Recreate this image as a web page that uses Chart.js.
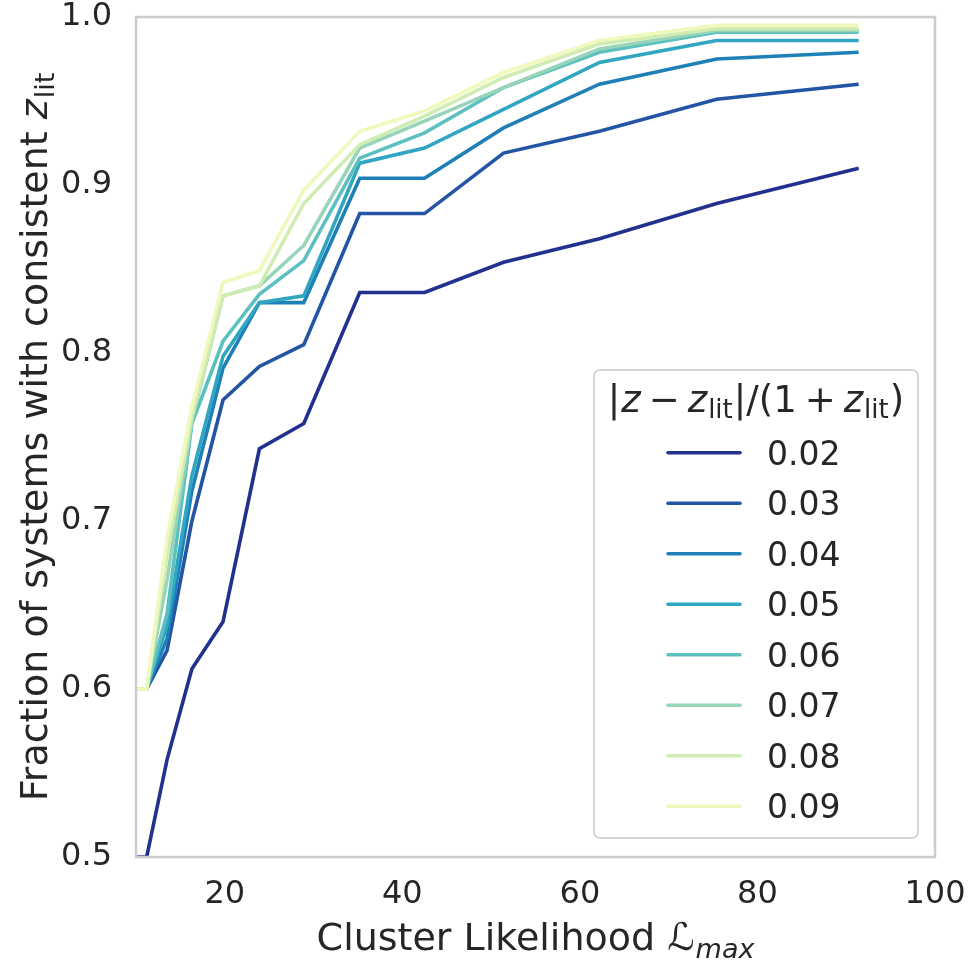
<!DOCTYPE html>
<html>
<head>
<meta charset="utf-8">
<script src="https://cdn.jsdelivr.net/npm/chart.js@4.4.1/dist/chart.umd.min.js"></script>
<style>
  html, body { margin: 0; padding: 0; background: #ffffff; }
  canvas { display: block; }
</style>
</head>
<body>
<canvas id="chart" width="972" height="962"></canvas>
<script>
// Cluster likelihood threshold (x) and fraction of systems whose redshift
// agrees with the literature value within each tolerance.
const likelihood = [10, 11.2, 13.5, 16.3, 19.8, 23.9, 28.9, 35.2, 42.5, 51.4, 62.2, 75.4, 91.4];

const tolerances = ['0.02', '0.03', '0.04', '0.05', '0.06', '0.07', '0.08', '0.09'];

const frac002 = [0.500, 0.500, 0.558, 0.612, 0.640, 0.743, 0.758, 0.836, 0.836, 0.854, 0.868, 0.889, 0.910];
const frac003 = [0.600, 0.600, 0.623, 0.700, 0.772, 0.792, 0.805, 0.883, 0.883, 0.919, 0.932, 0.951, 0.960];
const frac004 = [0.600, 0.600, 0.630, 0.718, 0.791, 0.830, 0.830, 0.904, 0.904, 0.934, 0.960, 0.975, 0.979];
const frac005 = [0.600, 0.600, 0.638, 0.727, 0.798, 0.830, 0.834, 0.913, 0.922, 0.945, 0.973, 0.986, 0.986];
const frac006 = [0.600, 0.600, 0.645, 0.758, 0.807, 0.835, 0.855, 0.916, 0.931, 0.958, 0.979, 0.991, 0.991];
const frac007 = [0.600, 0.600, 0.665, 0.760, 0.834, 0.840, 0.864, 0.922, 0.938, 0.958, 0.981, 0.992, 0.992];
const frac008 = [0.600, 0.600, 0.680, 0.762, 0.834, 0.840, 0.889, 0.924, 0.941, 0.964, 0.984, 0.993, 0.993];
const frac009 = [0.600, 0.600, 0.690, 0.768, 0.842, 0.849, 0.897, 0.932, 0.944, 0.967, 0.986, 0.995, 0.995];

const fractions = [frac002, frac003, frac004, frac005, frac006, frac007, frac008, frac009];

// YlGnBu (reversed) sampled at eight evenly spaced positions
const palette = ['#22318d', '#2355a4', '#1f80b8', '#31a6c2', '#5dc0c0', '#97d4b9', '#cfecb3', '#eff9bd'];

const xTicks = [20, 40, 60, 80, 100];
const yTicks = [0.5, 0.6, 0.7, 0.8, 0.9, 1.0];

const FONT = '"DejaVu Sans", "Liberation Sans", sans-serif';
const TEXT = '#262626';
const SPINE = '#cccccc';
const LINE_W = 3.6;

// Draw a sequence of text runs (used for labels with italic symbols and subscripts)
function measureRuns(ctx, runs) {
  let w = 0;
  for (const r of runs) {
    ctx.font = r.font;
    r.w = ctx.measureText(r.text).width;
    w += (r.gap || 0) + r.w;
  }
  return w;
}
function drawRuns(ctx, runs, x, y, align) {
  const total = measureRuns(ctx, runs);
  let cx = align === 'center' ? x - total / 2 : x;
  ctx.textBaseline = 'alphabetic';
  ctx.textAlign = 'left';
  for (const r of runs) {
    cx += r.gap || 0;
    ctx.font = r.font;
    ctx.fillText(r.text, cx, y + (r.dy || 0));
    cx += r.w;
  }
}

// keep the plot area fixed: no extra room reserved for overhanging tick labels
function fixPadding(s) {
  s.paddingTop = 0; s.paddingBottom = 0; s.paddingLeft = 0; s.paddingRight = 0;
}

const frameAndLabels = {
  id: 'frameAndLabels',
  afterDatasetsDraw(chart) {
    const ctx = chart.ctx;
    const a = chart.chartArea;
    ctx.save();
    // axes frame
    ctx.strokeStyle = SPINE;
    ctx.lineWidth = 2.5;
    ctx.strokeRect(a.left, a.top, a.right - a.left, a.bottom - a.top);

    ctx.fillStyle = TEXT;
    // x axis title: Cluster Likelihood L_max
    const L = 38, S = 27;
    drawRuns(ctx, [
      { text: 'Cluster Likelihood ', font: `${L}px ${FONT}` },
      { text: '\u2112', font: `italic ${L}px ${FONT}` },
      { text: 'max', font: `italic ${S}px ${FONT}`, dy: 8, gap: 1 }
    ], (a.left + a.right) / 2, 950, 'center');

    // y axis title: Fraction of systems with consistent z_lit
    ctx.save();
    ctx.translate(47, (a.top + a.bottom) / 2);
    ctx.rotate(-Math.PI / 2);
    drawRuns(ctx, [
      { text: 'Fraction of systems with consistent ', font: `${L}px ${FONT}` },
      { text: 'z', font: `italic ${L}px ${FONT}` },
      { text: 'lit', font: `${S}px ${FONT}`, dy: 7, gap: 1 }
    ], 0, 0, 'center');
    ctx.restore();

    // legend
    const bx = 594, by = 370, bw = 324, bh = 468;
    ctx.beginPath();
    ctx.roundRect(bx, by, bw, bh, 6);
    ctx.fillStyle = 'rgba(255,255,255,0.8)';
    ctx.fill();
    ctx.strokeStyle = '#d6d6d6';
    ctx.lineWidth = 2;
    ctx.stroke();

    ctx.fillStyle = TEXT;
    const T = 37, TS = 26;
    const sp = 8;
    drawRuns(ctx, [
      { text: '|', font: `${T}px ${FONT}` },
      { text: 'z', font: `italic ${T}px ${FONT}`, gap: 1 },
      { text: '\u2212', font: `${T}px ${FONT}`, gap: sp },
      { text: 'z', font: `italic ${T}px ${FONT}`, gap: sp },
      { text: 'lit', font: `${TS}px ${FONT}`, dy: 6, gap: 1 },
      { text: '|/(1', font: `${T}px ${FONT}`, gap: 1 },
      { text: '+', font: `${T}px ${FONT}`, gap: sp },
      { text: 'z', font: `italic ${T}px ${FONT}`, gap: sp },
      { text: 'lit', font: `${TS}px ${FONT}`, dy: 6, gap: 1 },
      { text: ')', font: `${T}px ${FONT}`, gap: 1 }
    ], bx + bw / 2, 412, 'center');

    ctx.font = `33px ${FONT}`;
    ctx.textAlign = 'left';
    ctx.textBaseline = 'alphabetic';
    tolerances.forEach((lab, i) => {
      const yc = 452.7 + i * 50.5;
      ctx.strokeStyle = palette[i];
      ctx.lineWidth = LINE_W;
      ctx.lineCap = 'round';
      ctx.beginPath();
      ctx.moveTo(668, yc);
      ctx.lineTo(740, yc);
      ctx.stroke();
      ctx.fillStyle = TEXT;
      ctx.fillText(lab, 767, yc + 12);
    });
    ctx.restore();
  }
};

const datasets = tolerances.map((lab, i) => ({
  label: lab,
  data: likelihood.map((x, j) => ({ x: x, y: fractions[i][j] })),
  borderColor: palette[i],
  backgroundColor: palette[i],
  borderWidth: LINE_W,
  pointRadius: 0,
  tension: 0,
  fill: false,
  clip: 0,
  order: tolerances.length - i
}));

new Chart(document.getElementById('chart'), {
  type: 'line',
  data: { datasets: datasets },
  options: {
    responsive: false,
    animation: false,
    devicePixelRatio: 1,
    layout: { padding: { top: 17, right: 37, bottom: 0, left: 0 } },
    plugins: { legend: { display: false }, tooltip: { enabled: false } },
    scales: {
      x: {
        type: 'linear',
        min: 10,
        max: 100,
        grid: { display: false, drawTicks: false },
        border: { display: false },
        afterBuildTicks: s => { s.ticks = xTicks.map(v => ({ value: v })); },
        afterFit: s => { s.height = 105; fixPadding(s); },
        ticks: {
          font: { family: FONT, size: 32 },
          color: TEXT,
          padding: 18,
          maxRotation: 0,
          autoSkip: false,
          callback: v => String(v)
        }
      },
      y: {
        type: 'linear',
        min: 0.5,
        max: 1.0,
        grid: { display: false, drawTicks: false },
        border: { display: false },
        afterBuildTicks: s => { s.ticks = yTicks.map(v => ({ value: v })); },
        afterFit: s => { s.width = 136; fixPadding(s); },
        ticks: {
          font: { family: FONT, size: 32 },
          color: TEXT,
          padding: 24,
          autoSkip: false,
          callback: v => Number(v).toFixed(1)
        }
      }
    }
  },
  plugins: [frameAndLabels]
});
</script>
</body>
</html>
